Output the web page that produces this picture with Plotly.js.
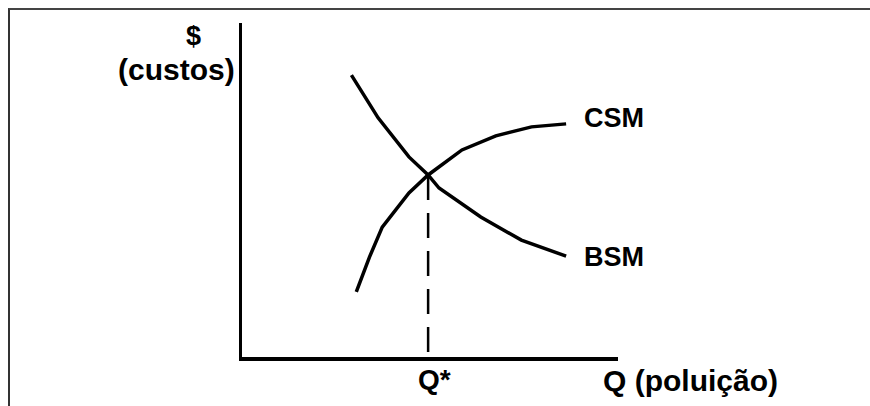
<!DOCTYPE html>
<html>
<head>
<meta charset="utf-8">
<script src="https://cdn.plot.ly/plotly-3.0.1.min.js"></script>
<style>
  body { margin: 0; background: #fff; }
  #chart { position: absolute; left: 0; top: 0; width: 870px; height: 406px; }
  #frame { position: absolute; left: 8px; top: 8px; width: 862px; height: 398px;
           border-top: 2px solid #444; border-left: 2px solid #333; pointer-events: none; }
</style>
</head>
<body>
<div id="chart"></div>
<div id="frame"></div>
<script>
// quantity of pollution (0-100) and cost ($, 0-100)
const csmQ = [30.4, 33.9, 37.3, 44.4, 49.5, 58.5, 67.5, 77.0, 86.2];
const csmCost = [19.5, 29.9, 38.9, 49.1, 54.5, 62.0, 66.2, 68.9, 69.8];
const bsmQ = [29.1, 36.2, 44.4, 49.5, 52.4, 63.5, 74.3, 86.2];
const bsmCost = [84.4, 71.6, 59.9, 54.5, 50.6, 41.9, 35.0, 30.2];
const qStar = 49.5;
const costStar = 54.5;

const font = { family: "Arial, 'Liberation Sans', sans-serif", color: "#000", weight: "bold" };
const big = Object.assign({}, font, { size: 30 });
const mid = Object.assign({}, font, { size: 27 });
const qs = Object.assign({}, font, { size: 28 });

const traces = [
    { x: csmQ, y: csmCost, mode: "lines", name: "CSM", line: { color: "#000", width: 3.5 } },
    { x: bsmQ, y: bsmCost, mode: "lines", name: "BSM", line: { color: "#000", width: 3.5 } },
    { x: [qStar, qStar], y: [costStar, 0], mode: "lines", name: "Q*",
      line: { color: "#000", width: 2.5, dash: "25px,13px" } }
];

const layout = {
    width: 870, height: 406,
    margin: { l: 242, r: 252, t: 23, b: 49 },
    paper_bgcolor: "#fff", plot_bgcolor: "#fff",
    showlegend: false,
    xaxis: { range: [0, 100], showgrid: false, zeroline: false, showticklabels: false, ticks: "",
             showline: true, linecolor: "#000", linewidth: 3.5, fixedrange: true },
    yaxis: { range: [0, 100], showgrid: false, zeroline: false, showticklabels: false, ticks: "",
             showline: true, linecolor: "#000", linewidth: 3.5, fixedrange: true },
    annotations: [
        { x: csmQ[csmQ.length - 1], y: csmCost[csmCost.length - 1], text: "CSM", showarrow: false,
          xanchor: "left", yanchor: "middle", xshift: 16, yshift: 6, font: mid },
        { x: bsmQ[bsmQ.length - 1], y: bsmCost[bsmCost.length - 1], text: "BSM", showarrow: false,
          xanchor: "left", yanchor: "middle", xshift: 16, yshift: -1, font: mid },
        { x: qStar, y: 0, text: "Q*", showarrow: false, xanchor: "center", yanchor: "top",
          xshift: 6, yshift: -5, font: qs },
        { x: 100, y: 0, text: "Q (poluição)", showarrow: false, xanchor: "left", yanchor: "middle",
          xshift: -17, yshift: -23, font: big },
        { xref: "paper", x: 0, y: 100, text: "$", showarrow: false, xanchor: "right", yanchor: "middle",
          xshift: -39, yshift: -13, font: mid },
        { xref: "paper", x: 0, y: 100, text: "(custos)", showarrow: false, xanchor: "right", yanchor: "middle",
          xshift: -5, yshift: -46, font: big }
    ]
};

Plotly.newPlot("chart", traces, layout, { displayModeBar: false, staticPlot: true });
</script>
</body>
</html>
